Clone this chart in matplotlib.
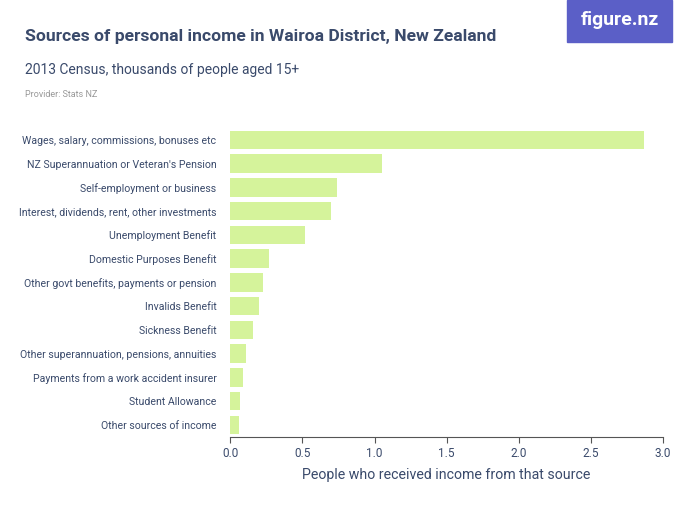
import matplotlib.pyplot as plt
from matplotlib.patches import Rectangle

categories = [
    "Wages, salary, commissions, bonuses etc",
    "NZ Superannuation or Veteran's Pension",
    "Self-employment or business",
    "Interest, dividends, rent, other investments",
    "Unemployment Benefit",
    "Domestic Purposes Benefit",
    "Other govt benefits, payments or pension",
    "Invalids Benefit",
    "Sickness Benefit",
    "Other superannuation, pensions, annuities",
    "Payments from a work accident insurer",
    "Student Allowance",
    "Other sources of income",
]
values = [2.87, 1.05, 0.74, 0.70, 0.52, 0.27, 0.23, 0.20, 0.16, 0.11, 0.09, 0.07, 0.06]
xticks = [0.0, 0.5, 1.0, 1.5, 2.0, 2.5, 3.0]

plt.rcParams['font.family'] = ['Roboto', 'DejaVu Sans']
text_col = '#3a4a6b'

fig = plt.figure(figsize=(7, 5.25), dpi=100)
ax = fig.add_axes([0.329, 0.168, 0.618, 0.588])
ypos = list(range(len(categories)))
ax.barh(ypos, values, height=0.78, color='#d5f39b')
ax.set_ylim(len(categories) - 0.5, -0.5)
ax.set_xlim(0, 3.0)
ax.set_yticks(ypos)
ax.set_yticklabels(categories, fontsize=7.6, color=text_col)
ax.set_xticks(xticks)
ax.set_xticklabels([f"{t:.1f}" for t in xticks], fontsize=8.5, color=text_col)
ax.tick_params(axis='y', length=0, pad=10)
ax.tick_params(axis='x', length=4, color='#555555')
for s in ['top', 'right', 'left']:
    ax.spines[s].set_visible(False)
ax.spines['bottom'].set_color('#555555')
ax.set_xlabel("People who received income from that source", fontsize=10.2, color=text_col)
ax.xaxis.set_label_coords(0.5, -0.1)

fig.text(0.036, 0.93, "Sources of personal income in Wairoa District, New Zealand",
         fontsize=12.6, color=text_col, weight='bold', va='center')
fig.text(0.036, 0.866, "2013 Census, thousands of people aged 15+", fontsize=10, color=text_col, va='center')
fig.text(0.036, 0.82, "Provider: Stats NZ", fontsize=6.5, color='#999999', va='center')

fig.patches.append(Rectangle((0.81, 0.92), 0.15, 0.08, transform=fig.transFigure, color='#5b5fc7'))
fig.text(0.885, 0.962, "figure.nz", fontsize=14, color='white', ha='center', va='center', weight='bold')

fig.savefig('out.png', dpi=100, facecolor='white')
